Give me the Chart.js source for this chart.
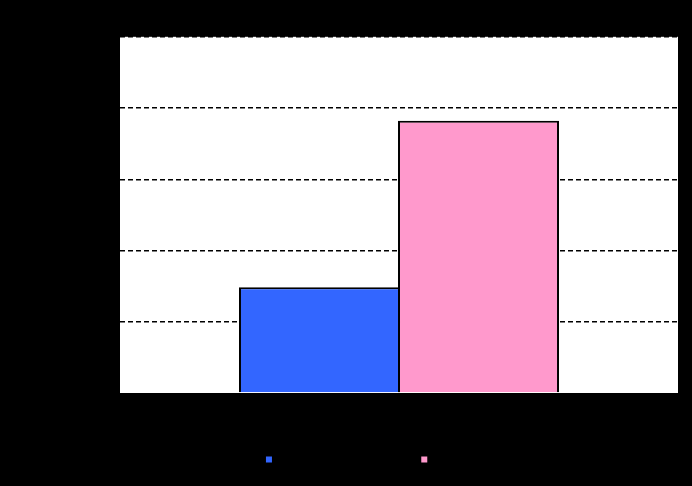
<!DOCTYPE html>
<html>
<head>
<meta charset="utf-8">
<script src="https://cdn.jsdelivr.net/npm/chart.js@4.4.1/dist/chart.umd.min.js"></script>
<style>
  html, body { margin: 0; padding: 0; background: #000; }
  canvas { display: block; }
</style>
</head>
<body>
<canvas id="barChart" width="692" height="486"></canvas>
<script>
// Chart data
const categories = ['Measured value'];
const seriesNames = ['Before the intervention', 'After intervention'];
const beforeValues = [29.7];
const afterValues = [76.4];
const yTicks = [0, 20, 40, 60, 80, 100];

Chart.defaults.font.family = "'Liberation Sans', Arial, sans-serif";
Chart.defaults.color = '#000';

// White plot area on the black page
const plotBackground = {
    id: 'plotBackground',
    beforeDraw(chart) {
        const { ctx, chartArea } = chart;
        ctx.save();
        ctx.fillStyle = '#fff';
        ctx.fillRect(chartArea.left, chartArea.top, chartArea.right - chartArea.left, chartArea.bottom - chartArea.top);
        ctx.restore();
    }
};

// Center the legend under the plot area rather than the whole canvas
const legendUnderPlot = {
    id: 'legendUnderPlot',
    afterLayout(chart) {
        const legend = chart.legend;
        legend.left = chart.chartArea.left;
        legend.right = chart.chartArea.right;
        legend.width = legend.right - legend.left;
    }
};

const ctx = document.getElementById('barChart').getContext('2d');
const barChart = new Chart(ctx, {
    type: 'bar',
    data: {
        labels: categories,
        datasets: [{
            label: seriesNames[0],
            data: beforeValues,
            backgroundColor: '#3366ff',
            borderColor: '#000',
            borderWidth: 2
        }, {
            label: seriesNames[1],
            data: afterValues,
            backgroundColor: '#ff99cc',
            borderColor: '#000',
            borderWidth: 2
        }]
    },
    options: {
        responsive: false,
        animation: false,
        devicePixelRatio: 1,
        layout: { padding: { left: 0, right: 14, top: 0, bottom: 10 } },
        datasets: {
            // bars overlap by their border so they share one divider line
            bar: { barPercentage: 1.0125, categoryPercentage: 0.57 }
        },
        plugins: {
            title: {
                display: true,
                text: 'Results before and after the intervention',
                font: { size: 14, weight: 'bold' },
                padding: { top: 10, bottom: 10 }
            },
            legend: {
                position: 'bottom',
                labels: { boxWidth: 8, boxHeight: 8, padding: 10, font: { size: 13 } }
            },
            tooltip: { enabled: false }
        },
        scales: {
            x: {
                grid: { display: false },
                border: { display: false },
                ticks: { font: { size: 12 } },
                title: { display: true, text: 'Group', font: { size: 13 } },
                afterFit(scale) { scale.height = 50; }
            },
            y: {
                min: yTicks[0],
                max: yTicks[yTicks.length - 1],
                afterBuildTicks(scale) {
                    scale.ticks = yTicks.map(v => ({ value: v }));
                },
                grid: {
                    color: c => (c.tick && c.tick.value === 0) ? 'rgba(0,0,0,0)' : '#000',
                    lineWidth: 1.5,
                    tickLength: 6
                },
                border: { display: false, dash: [5, 3] },
                ticks: { font: { size: 12 } },
                title: { display: true, text: 'Score (%)', font: { size: 13 } },
                afterFit(scale) { scale.width = 120; }
            }
        }
    },
    plugins: [plotBackground, legendUnderPlot]
});
</script>
</body>
</html>
